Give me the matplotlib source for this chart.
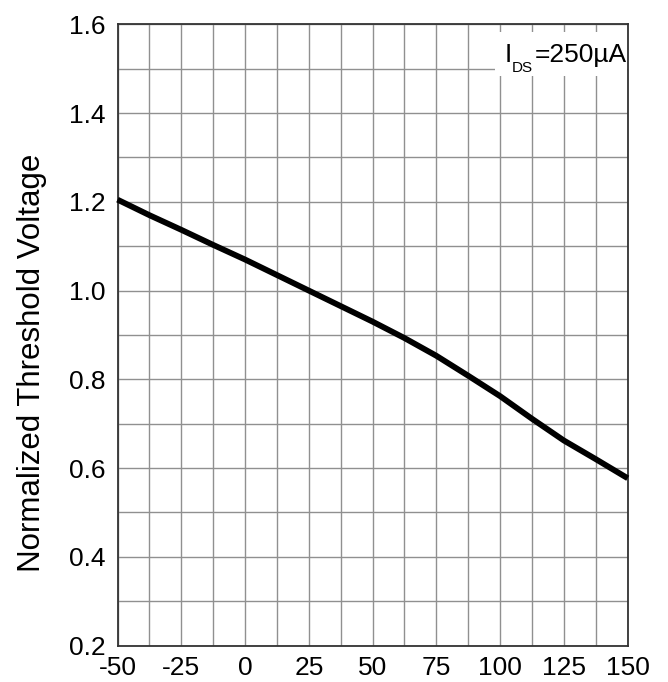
import matplotlib
matplotlib.use("Agg")
import matplotlib.pyplot as plt
from matplotlib.patches import Rectangle
from matplotlib.ticker import MultipleLocator

plt.rcParams['font.family'] = ['Liberation Sans', 'DejaVu Sans']

# junction temperature (deg C) vs normalized gate threshold voltage
temp = [-50, -37.5, -25, -12.5, 0, 12.5, 25, 37.5, 50, 62.5, 75, 87.5, 100, 112.5, 125, 137.5, 150]
vth_norm = [1.205, 1.17, 1.137, 1.103, 1.07, 1.035, 1.0, 0.965, 0.93, 0.893, 0.853, 0.808,
            0.762, 0.711, 0.662, 0.62, 0.577]

x_ticks = [-50, -25, 0, 25, 50, 75, 100, 125, 150]
y_ticks = [0.2, 0.4, 0.6, 0.8, 1.0, 1.2, 1.4, 1.6]

W, H = 668, 682
fig = plt.figure(figsize=(W / 100, H / 100), dpi=100)
ax = fig.add_axes([117.5 / W, 1 - 645.5 / H, (627.7 - 117.5) / W, (645.5 - 24.4) / H])

ax.plot(temp, vth_norm, color='black', lw=4.2, solid_capstyle='butt', solid_joinstyle='round',
        zorder=5, clip_on=False)

ax.set_xlim(-50, 150)
ax.set_ylim(0.2, 1.6)
ax.set_xticks(x_ticks)
ax.set_xticklabels([str(t) for t in x_ticks])
ax.set_yticks(y_ticks)
ax.set_yticklabels(['%.1f' % v for v in y_ticks])
ax.xaxis.set_minor_locator(MultipleLocator(12.5))
ax.yaxis.set_minor_locator(MultipleLocator(0.1))
ax.grid(True, which='both', color='#909090', lw=1.0)
ax.set_axisbelow(True)
ax.tick_params(which='both', length=0, labelsize=19, colors='black')
ax.tick_params(axis='x', pad=7.5)
ax.tick_params(axis='y', pad=8.5)
for s in ax.spines.values():
    s.set_color('#333333')
    s.set_linewidth(1.3)

ax.set_ylabel('Normalized Threshold Voltage', fontsize=22.5)
ax.yaxis.set_label_coords(-0.138, 0.455)

# condition label in the upper right, on a white patch over the grid
def fx(px):
    return px / W

def fy(py):
    return 1 - py / H

ax.add_patch(Rectangle((fx(495), fy(76)), fx(627) - fx(495), fy(32) - fy(76),
                       transform=fig.transFigure, facecolor='white', edgecolor='none', zorder=3))
fig.text(fx(505), fy(62), 'I', fontsize=19, va='baseline', ha='left', zorder=6)
fig.text(fx(512), fy(72), 'DS', fontsize=11, va='baseline', ha='left', zorder=6)
fig.text(fx(535), fy(62), '=250\u00b5A', fontsize=19, va='baseline', ha='left', zorder=6)

fig.savefig('out.png', dpi=100)
